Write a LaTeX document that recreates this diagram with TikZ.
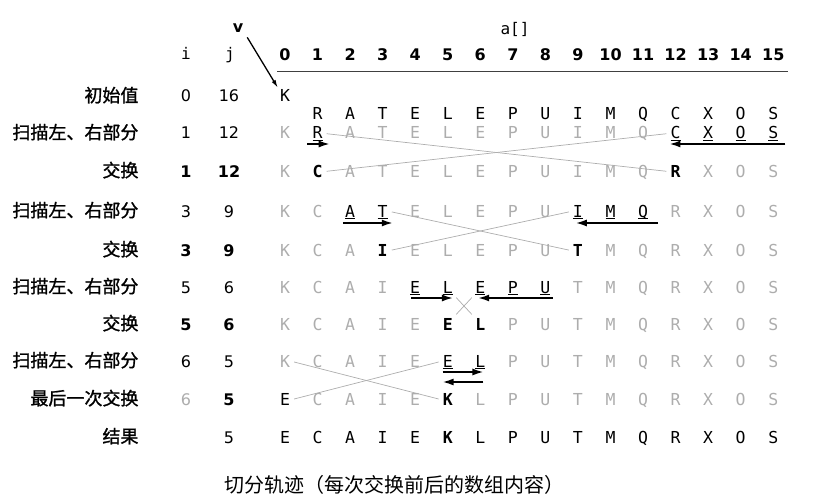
\documentclass[tikz,border=0pt]{standalone}
\usepackage{fontspec}
\setmainfont{DejaVu Sans}
\setmonofont{DejaVu Sans Mono}
\newfontfamily\cjklab[FakeBold=1.2]{Noto Sans CJK SC}
\newfontfamily\cjkcap{Noto Sans CJK SC}
\usetikzlibrary{arrows.meta}
\definecolor{lgray}{gray}{0.68}
% letter looks: g = gray, n = plain, b = bold, u = underlined
\newcommand\letg[1]{\textcolor{lgray}{#1}}
\newcommand\letn[1]{#1}
\newcommand\letb[1]{\textbf{#1}}
\newcommand\letu[1]{\setbox0\hbox{#1}\rlap{\rule[-1.8pt]{\wd0}{1.1pt}}\box0}
\tikzset{
cell/.style={font=\ttfamily\fontsize{16.5}{18}\selectfont, anchor=base, inner sep=2pt, text height=12pt, text depth=1pt},
num/.style={font=\fontsize{16}{18}\selectfont, anchor=base},
numb/.style={num, font=\bfseries\fontsize{16}{18}\selectfont},
lab/.style={font=\cjklab\fontsize{18}{20}\selectfont, anchor=base east},
scanarr/.style={-{Latex[length=11pt,width=7pt]}, line width=1.7pt},
swap/.style={draw=lgray, line width=0.7pt, shorten <=2pt, shorten >=2pt},
}

\begin{document}
\begin{tikzpicture}[x=1pt, y=-1pt]
            \useasboundingbox (0,0) rectangle (820,503);

            % Header
            \node[font=\bfseries\fontsize{16}{18}\selectfont, anchor=base] (v) at (238,33) {v};
            \node[font=\ttfamily\fontsize{16}{18}\selectfont, anchor=base] (arr) at (515,35) {a[]};
            \node[font=\ttfamily\fontsize{16}{18}\selectfont, anchor=base] (hi) at (186,60) {i};
            \node[font=\ttfamily\fontsize{16}{18}\selectfont, anchor=base] (hj) at (230,60) {j};
            \foreach \c in {0,...,15}
                \node[numb] (h\c) at ({285+32.55*\c},61) {\c};
            \coordinate (rule west) at (277,71);
            \coordinate (rule east) at (788,71);
            \draw[line width=0.9pt, black!75] (rule west) -- (rule east);

            % Row labels
            \node[lab] (l0) at (142,102) {初始值};
            \node[lab] (l1) at (142,139) {扫描左、右部分};
            \node[lab] (l2) at (142,177) {交换};
            \node[lab] (l3) at (142,217) {扫描左、右部分};
            \node[lab] (l4) at (142,256) {交换};
            \node[lab] (l5) at (142,293) {扫描左、右部分};
            \node[lab] (l6) at (142,330) {交换};
            \node[lab] (l7) at (142,367) {扫描左、右部分};
            \node[lab] (l8) at (142,405) {最后一次交换};
            \node[lab] (l9) at (142,443) {结果};

            % i and j
            \node[num] (i0) at (186,102) {0};   \node[num] (j0) at (229,102) {16};
            \node[num] (i1) at (186,139) {1};   \node[num] (j1) at (229,139) {12};
            \node[numb] (i2) at (186,177) {1};  \node[numb] (j2) at (229,177) {12};
            \node[num] (i3) at (186,217) {3};   \node[num] (j3) at (229,217) {9};
            \node[numb] (i4) at (186,256) {3};  \node[numb] (j4) at (229,256) {9};
            \node[num] (i5) at (186,293) {5};   \node[num] (j5) at (229,293) {6};
            \node[numb] (i6) at (186,330) {5};  \node[numb] (j6) at (229,330) {6};
            \node[num] (i7) at (186,367) {6};   \node[num] (j7) at (229,367) {5};
            \node[num, text=lgray] (i8) at (186,405) {6}; \node[numb] (j8) at (229,405) {5};
            \node[num] (j9) at (229,443) {5};

            % Initial values
            \node[cell] (r0c0) at (285,102) {K};
            \foreach \l [count=\c] in {R,A,T,E,L,E,P,U,I,M,Q,C,X,O,S}
                \node[cell] (r0c\c) at ({285+32.55*\c},119) {\l};

            % Scan 1 12
            \foreach \l/\s [count=\c from 0] in {K/g,R/u,A/g,T/g,E/g,L/g,E/g,P/g,U/g,I/g,M/g,Q/g,C/u,X/u,O/u,S/u}
                \node[cell] (r1c\c) at ({285+32.55*\c},139) {\csname let\s\endcsname{\l}};
            % Exchange 1 12
            \foreach \l/\s [count=\c from 0] in {K/g,C/b,A/g,T/g,E/g,L/g,E/g,P/g,U/g,I/g,M/g,Q/g,R/b,X/g,O/g,S/g}
                \node[cell] (r2c\c) at ({285+32.55*\c},177) {\csname let\s\endcsname{\l}};

            % Scan 3 9
            \foreach \l/\s [count=\c from 0] in {K/g,C/g,A/u,T/u,E/g,L/g,E/g,P/g,U/g,I/u,M/u,Q/u,R/g,X/g,O/g,S/g}
                \node[cell] (r3c\c) at ({285+32.55*\c},217) {\csname let\s\endcsname{\l}};
            % Exchange 3 9
            \foreach \l/\s [count=\c from 0] in {K/g,C/g,A/g,I/b,E/g,L/g,E/g,P/g,U/g,T/b,M/g,Q/g,R/g,X/g,O/g,S/g}
                \node[cell] (r4c\c) at ({285+32.55*\c},256) {\csname let\s\endcsname{\l}};

            % Scan 5 6
            \foreach \l/\s [count=\c from 0] in {K/g,C/g,A/g,I/g,E/u,L/u,E/u,P/u,U/u,T/g,M/g,Q/g,R/g,X/g,O/g,S/g}
                \node[cell] (r5c\c) at ({285+32.55*\c},293) {\csname let\s\endcsname{\l}};
            % Exchange 5 6
            \foreach \l/\s [count=\c from 0] in {K/g,C/g,A/g,I/g,E/g,E/b,L/b,P/g,U/g,T/g,M/g,Q/g,R/g,X/g,O/g,S/g}
                \node[cell] (r6c\c) at ({285+32.55*\c},330) {\csname let\s\endcsname{\l}};

            % Scan 6 5
            \foreach \l/\s [count=\c from 0] in {K/g,C/g,A/g,I/g,E/g,E/u,L/u,P/g,U/g,T/g,M/g,Q/g,R/g,X/g,O/g,S/g}
                \node[cell] (r7c\c) at ({285+32.55*\c},367) {\csname let\s\endcsname{\l}};
            % Final exchange
            \foreach \l/\s [count=\c from 0] in {E/n,C/g,A/g,I/g,E/g,K/b,L/g,P/g,U/g,T/g,M/g,Q/g,R/g,X/g,O/g,S/g}
                \node[cell] (r8c\c) at ({285+32.55*\c},405) {\csname let\s\endcsname{\l}};

            % Result
            \foreach \l/\s [count=\c from 0] in {E/n,C/n,A/n,I/n,E/n,K/b,L/n,P/n,U/n,T/n,M/n,Q/n,R/n,X/n,O/n,S/n}
                \node[cell] (r9c\c) at ({285+32.55*\c},443) {\csname let\s\endcsname{\l}};

            % Partitioning item
            \draw[-{Latex[length=8pt,width=4.5pt]}, line width=1.3pt, shorten <=1pt] (v.south east) -- (r0c0.north west);

            % Scan arrows
            \draw[scanarr] ([xshift=-3pt,yshift=-5pt]r1c1.base west) -- ([xshift=5pt,yshift=-5pt]r1c1.base east);
            \draw[scanarr] ([xshift=5pt,yshift=-5pt]r1c15.base east) -- ([xshift=1pt,yshift=-5pt]r1c12.base west);
            \draw[scanarr] ([xshift=0pt,yshift=-6pt]r3c2.base west) -- ([xshift=3pt,yshift=-6pt]r3c3.base east);
            \draw[scanarr] ([xshift=8pt,yshift=-6pt]r3c11.base east) -- ([xshift=5pt,yshift=-6pt]r3c9.base west);
            \draw[scanarr] ([xshift=3pt,yshift=-5pt]r5c4.base west) -- ([xshift=-2pt,yshift=-5pt]r5c5.base east);
            \draw[scanarr] ([xshift=0pt,yshift=-5pt]r5c8.base east) -- ([xshift=5pt,yshift=-5pt]r5c6.base west);
            \draw[scanarr] ([xshift=2pt,yshift=-5pt]r7c5.base west) -- ([xshift=-4pt,yshift=-5pt]r7c6.base east);
            \draw[scanarr] ([xshift=-4pt,yshift=-15pt]r7c6.base east) -- ([xshift=2pt,yshift=-15pt]r7c5.base west);

            % Exchanges
            \draw[swap] (r1c1.east) -- (r2c12.west);
            \draw[swap] (r1c12.west) -- (r2c1.east);
            \draw[swap] (r3c3.east) -- (r4c9.west);
            \draw[swap] (r3c9.west) -- (r4c3.east);
            \draw[swap] (r5c5.south east) -- (r6c6.north west);
            \draw[swap] (r5c6.south west) -- (r6c5.north east);
            \draw[swap] (r7c0.east) -- (r8c5.west);
            \draw[swap] (r7c5.west) -- (r8c0.east);

            % Caption
            \node[font=\cjkcap\fontsize{20}{22}\selectfont] (cap) at (394,485) {切分轨迹（每次交换前后的数组内容）};
\end{tikzpicture}
\end{document}
